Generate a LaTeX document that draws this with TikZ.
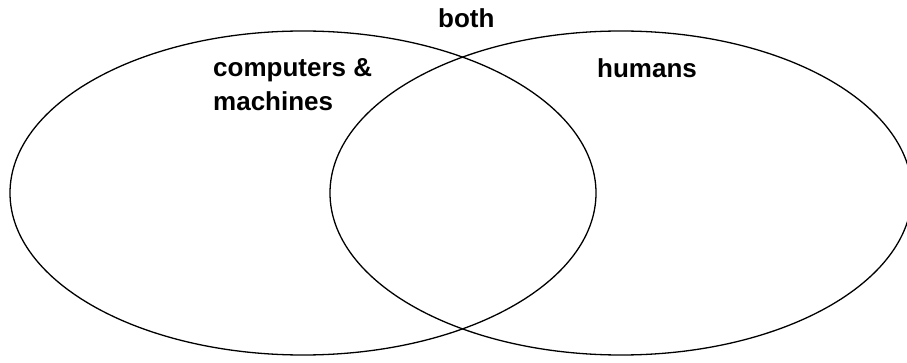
\documentclass[tikz,border=0pt]{standalone}
\usepackage{fontspec}
\setmainfont{Liberation Sans}
\usetikzlibrary{shapes.geometric}
\begin{document}
\begin{tikzpicture}[x=1pt,y=-1pt,
  setshape/.style={draw=black, line width=1.3pt, ellipse, inner sep=0pt, minimum width=#1, minimum height=324pt},
  lbl/.style={font=\fontsize{26}{34}\selectfont\bfseries, inner sep=0pt, anchor=base west, align=left}]
\useasboundingbox (0,0) rectangle (907,363);
\node[setshape=586pt] (machines) at (303,193) {};
\node[setshape=582pt] (humans) at (621,193) {};
\node[lbl] (tboth) at (438,28) {both};
\node[lbl] (tcomp) at (213,111) {computers \&\\machines};
\node[lbl] (thum) at (597,78) {humans};
\end{tikzpicture}
\end{document}
